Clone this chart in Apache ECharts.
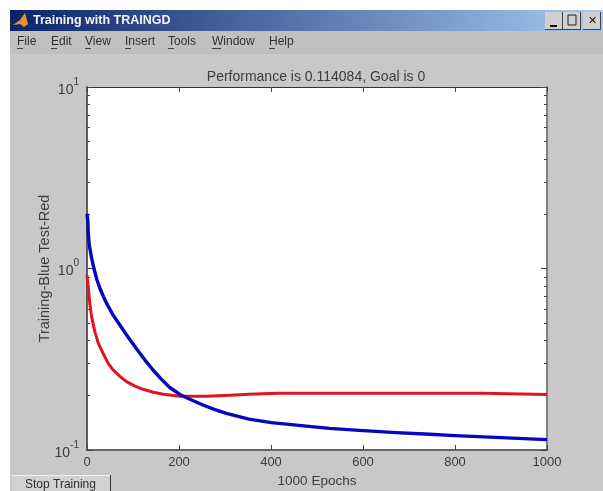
<!DOCTYPE html>
<html><head><meta charset="utf-8">
<style>html,body{margin:0;padding:0;background:#fff}#c{width:603px;height:491px}</style>
<script src="https://cdn.jsdelivr.net/npm/echarts@6/dist/echarts.min.js"></script>
</head><body><div id="c"></div>
<script>
const windowTitle = 'Training with TRAINGD';
const menuItems = ['File','Edit','View','Insert','Tools','Window','Help'];
const chartTitle = 'Performance is 0.114084, Goal is 0';
const xName = '1000 Epochs';
const yName = 'Training-Blue Test-Red';
const xTicks = [0,200,400,600,800,1000];
const yMajorTicks = [0.1,1,10];
const yMinorTicks = [0.2,0.3,0.4,0.5,0.6,0.7,0.8,0.9,2,3,4,5,6,7,8,9];
const blueEpochs = [0,2,2.8,5,9.4,15,21,28,35.8,43,56,72,90,108,126,144,162,180,202,220,252,275,303,352,401,455,527,600,672,745,800,900,1000];
const blueValues = [2.0,1.811,1.563,1.347,1.161,1.003,0.875,0.778,0.699,0.64,0.558,0.485,0.417,0.36,0.313,0.275,0.245,0.221,0.2022,0.1922,0.177,0.168,0.159,0.148,0.1415,0.1371,0.1316,0.1278,0.1247,0.1222,0.12,0.117,0.114];
const redEpochs = [0,2,3.6,6.5,10,17,24.6,35,46,57,72,86,104,122,144,166,202,260,311,352,412,600,860,1000];
const redValues = [0.92,0.901,0.745,0.629,0.543,0.449,0.387,0.341,0.3,0.276,0.2535,0.238,0.225,0.216,0.208,0.203,0.198,0.198,0.2,0.203,0.2055,0.2055,0.2055,0.2025];

const FONT = '"Liberation Sans", Arial, sans-serif';
const TXT = '#3c3c3c';
const rect = (x,y,w,h,fill,z=-10)=>({type:'rect',z,silent:true,shape:{x,y,width:w,height:h},style:{fill}});
const text = (x,y,t,font,fill,extra={})=>({type:'text',z:-5,silent:true,x,y,style:Object.assign({text:t,font,fill,textVerticalAlign:'middle'},extra)});
const menuX = [17,51,85,125,168,212,269];
const btnX = [545,563,583];
const graphics = [
  rect(10,10,593,481,'#c8c8c8'),
  rect(10,31,593,23,'#c0c0c0'),
  {type:'rect',z:-9,silent:true,shape:{x:10,y:10,width:593,height:21},style:{fill:new echarts.graphic.LinearGradient(0,0,1,0,[{offset:0,color:'#0a246a'},{offset:1,color:'#a6caf0'}])}},
  {type:'polygon',z:-5,silent:true,shape:{points:[[13,25],[20,20],[25,13],[28,24],[24,27],[20,24]]},style:{fill:'#e8922a'}},
  text(33,21,windowTitle,'bold 12.5px '+FONT,'#f4f4f4'),
  ...menuItems.map((m,i)=>text(menuX[i],42,m,'12px '+FONT,'#303030')),
  ...menuItems.map((m,i)=>rect(menuX[i],48,m==='Window'?9:6,1,'#404040',-4)),
  ...btnX.map(x=>rect(x,12,18,18,'#d0d0d0',-8)),
  ...btnX.map(x=>rect(x+17,12,1,18,'#404040',-7)),
  ...btnX.map(x=>rect(x,29,18,1,'#404040',-7)),
  rect(550,25,7,2,'#111',-6),
  {type:'rect',z:-6,silent:true,shape:{x:568,y:15,width:8,height:10},style:{fill:'none',stroke:'#222',lineWidth:1}},
  text(588,21,'✕','bold 11px "DejaVu Sans"','#111'),
  rect(12,475,98,16,'#d2d2d2',-8),
  rect(12,475,98,1,'#eeeeee',-7),
  rect(110,475,1,16,'#333',-7),
  text(25,485,'Stop Training','12px '+FONT,'#303030'),
];
const supLabel = v => '{b|10}{s|' + Math.round(Math.log10(v)) + '}';
const yBase = (extra)=>Object.assign({type:'log',logBase:10,min:0.1,max:10,splitLine:{show:false},minorSplitLine:{show:false},axisLabel:{show:false},axisLine:{show:true,onZero:false,lineStyle:{color:'#555',width:1.5}}},extra);
const xBase = (extra)=>Object.assign({type:'value',min:0,max:1000,interval:200,splitLine:{show:false}},extra);
const tick = (len,values)=>({show:true,inside:true,length:len,lineStyle:{color:'#444',width:1},customValues:values});
const chart = echarts.init(document.getElementById('c'),null,{renderer:'canvas'});
chart.setOption({
  animation:false,
  backgroundColor:'transparent',
  graphic:{elements:graphics},
  title:{text:chartTitle,left:311,top:65,textAlign:'center',textStyle:{fontFamily:FONT,fontSize:14,fontWeight:'normal',color:TXT,lineHeight:14}},
  grid:{left:87,right:56,top:87,bottom:41,show:true,backgroundColor:'#fff',borderWidth:0,outerBoundsMode:'none'},
  xAxis:[
    xBase({position:'bottom',name:xName,nameLocation:'middle',nameGap:24,nameTextStyle:{fontFamily:FONT,fontSize:13.5,color:TXT},
      axisLine:{show:true,onZero:false,lineStyle:{color:'#666',width:2}},axisTick:{show:true,inside:true,length:5,lineStyle:{color:'#444'}},
      axisLabel:{show:true,fontFamily:FONT,fontSize:13,color:TXT,margin:6,customValues:xTicks,formatter:v=>String(v)}}),
    xBase({position:'top',axisLine:{show:true,onZero:false,lineStyle:{color:'#333',width:1}},axisTick:{show:true,inside:true,length:5,lineStyle:{color:'#444'}},axisLabel:{show:false}})
  ],
  yAxis:[
    yBase({position:'left',name:yName,nameLocation:'middle',nameGap:35,nameMoveOverlap:false,nameTextStyle:{fontFamily:FONT,fontSize:14.5,color:TXT},
      axisTick:tick(6,yMajorTicks),axisLabel:{show:true,customValues:yMajorTicks,margin:8,formatter:supLabel,rich:{b:{fontFamily:FONT,fontSize:14,color:TXT,padding:[6,0,0,0]},s:{fontFamily:FONT,fontSize:10,color:TXT,padding:[0,0,10,0]}}}}),
    yBase({position:'right',axisTick:tick(6,yMajorTicks),axisLine:{show:true,onZero:false,lineStyle:{color:'#777',width:1.5}}}),
    yBase({position:'left',axisTick:tick(3,yMinorTicks)}),
    yBase({position:'right',axisTick:tick(3,yMinorTicks),axisLine:{show:true,onZero:false,lineStyle:{color:'#777',width:1.5}}})
  ],
  series:[
    {name:'Test',type:'line',showSymbol:false,smooth:false,clip:true,lineStyle:{color:'#e0141c',width:3,join:'round'},data:redEpochs.map((e,i)=>[e,redValues[i]])},
    {name:'Training',type:'line',showSymbol:false,smooth:false,clip:true,lineStyle:{color:'#0606c0',width:3.4,join:'round'},data:blueEpochs.map((e,i)=>[e,blueValues[i]])}
  ]
});
</script></body></html>
